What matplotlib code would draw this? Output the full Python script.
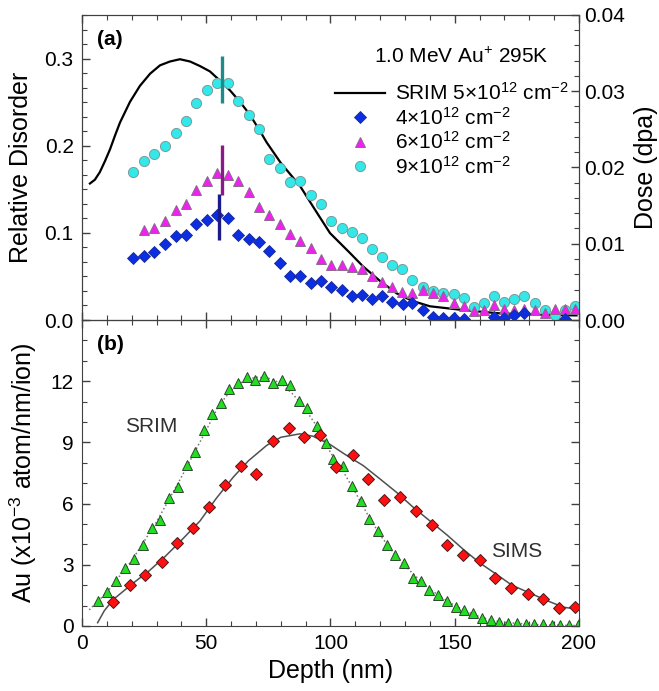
import matplotlib
matplotlib.use('Agg')
import matplotlib.pyplot as plt
from matplotlib.ticker import AutoMinorLocator, MultipleLocator

plt.rcParams['font.family'] = ['Liberation Sans', 'DejaVu Sans']
plt.rcParams['mathtext.fontset'] = 'custom'
plt.rcParams['mathtext.rm'] = 'Liberation Sans'
plt.rcParams['mathtext.it'] = 'Liberation Sans:italic'
plt.rcParams['mathtext.bf'] = 'Liberation Sans:bold'

# ---- panel (a): relative disorder data ----
depth_4e12 = [20.6, 25, 29.1, 33.3, 37.7, 41.9, 46, 50.3, 54.5, 58.8, 62.9, 67.1, 71.2,
              75.4, 79.5, 83.7, 87.8, 92, 96.2, 100.1, 104.5, 108.5, 112.5, 116.8, 120.6,
              124.6, 129, 133, 137.1, 141.4, 145.4, 149.7, 153.7, 165.8, 169.8, 173.8,
              177.9, 194.4]
rd_4e12 = [0.071, 0.074, 0.078, 0.087, 0.096, 0.098, 0.110, 0.115, 0.121, 0.117, 0.098,
           0.093, 0.090, 0.079, 0.065, 0.051, 0.050, 0.043, 0.045, 0.038, 0.035, 0.028,
           0.029, 0.024, 0.028, 0.021, 0.018, 0.020, 0.012, 0.004, 0.002, 0.002, 0.001,
           0.004, 0.002, 0.006, 0.008, 0.001]

depth_6e12 = [25, 29.1, 33.3, 37.7, 41.9, 46, 50.3, 54.5, 58.8, 62.9, 67.1, 71.2, 75.4,
              79.5, 83.7, 87.8, 92, 96.2, 100.1, 104.5, 108.5, 112.5, 116.8, 120.8, 124.9,
              128.9, 132.9, 137.3, 141.4, 145.4, 149.7, 153.7, 157.7, 161.8, 165.8, 169.8,
              173.8, 178, 182.3, 186.3, 190.3, 194.4, 198.4]
rd_6e12 = [0.103, 0.106, 0.114, 0.126, 0.133, 0.149, 0.160, 0.169, 0.166, 0.160, 0.147,
           0.130, 0.120, 0.110, 0.099, 0.091, 0.083, 0.070, 0.063, 0.063, 0.061, 0.058,
           0.051, 0.044, 0.038, 0.032, 0.031, 0.034, 0.031, 0.027, 0.019, 0.016, 0.010,
           0.012, 0.017, 0.013, 0.012, 0.013, 0.012, 0.008, 0.013, 0.013, 0.013]

depth_9e12 = [20.6, 25, 29.1, 33.3, 37.7, 41.9, 46, 50.3, 54.5, 58.8, 62.9, 67.1, 71.2,
              75.4, 79.5, 83.7, 87.8, 92, 96.2, 100.1, 104.5, 108.5, 112.5, 116.8, 120.8,
              124.9, 128.9, 132.9, 137.3, 141.4, 145.4, 149.7, 153.7, 157.7, 161.8, 165.8,
              169.8, 173.8, 178, 182.3, 186.3, 190.3, 194.4, 198.4]
rd_9e12 = [0.170, 0.183, 0.191, 0.200, 0.215, 0.228, 0.249, 0.264, 0.272, 0.272, 0.251,
           0.235, 0.219, 0.185, 0.174, 0.158, 0.159, 0.144, 0.133, 0.114, 0.106, 0.101,
           0.094, 0.081, 0.072, 0.063, 0.058, 0.046, 0.038, 0.033, 0.031, 0.030, 0.025,
           0.015, 0.019, 0.027, 0.021, 0.024, 0.028, 0.020, 0.012, 0.006, 0.012, 0.016]

# SRIM damage profile for 5e12 cm^-2 (dpa, right axis)
depth_srim_dpa = [3.2, 5.2, 7.2, 9.2, 11.3, 13.3, 15.3, 19.3, 23.3, 27.4, 31.4, 35.4,
                  39.4, 43.5, 47.5, 51.5, 55.5, 59.6, 63.6, 67.6, 71.6, 74.3, 80, 87.7,
                  93.7, 99.8, 107.8, 113.2, 120, 126.6, 133, 140, 153.5, 166.9, 180.3, 199]
dpa_srim = [0.0179, 0.0184, 0.0194, 0.0208, 0.0224, 0.0242, 0.0259, 0.0286, 0.0307,
            0.0323, 0.0334, 0.0339, 0.0342, 0.0339, 0.0333, 0.0326, 0.0314, 0.0301,
            0.0286, 0.0269, 0.0248, 0.0233, 0.0206, 0.0176, 0.0145, 0.0114, 0.0088,
            0.0070, 0.0051, 0.0035, 0.0025, 0.0018, 0.0013, 0.0009, 0.0007, 0.0006]

# peak markers (depth, low, high) per fluence
peak_bars = [(56.2, 0.249, 0.303, '#1f8a8a'),
             (56.2, 0.143, 0.201, '#8a1a8a'),
             (55.1, 0.092, 0.145, '#1a1a8a')]

# ---- panel (b): Au concentration ----
depth_srim_au = [6.6, 10.2, 13.7, 17.3, 20.9, 24.4, 28, 31.5, 35.1, 38.5, 42.1, 45.6,
                 49.1, 52.4, 55.9, 59.3, 62.8, 66.3, 69.7, 73.4, 76.7, 80.4, 83.7, 87.3,
                 90.7, 94.4, 98.1, 101.1, 104.9, 108.5, 112.1, 115.6, 119, 122.6, 126.1,
                 129.6, 133.1, 136.4, 139.8, 143.4, 146.7, 150.4, 153.9, 157.5, 161, 164.5,
                 168, 171.6, 175, 178.6, 181.9, 185.4, 189, 192.3, 196, 199.5]
au_srim = [1.23, 1.69, 2.22, 2.85, 3.26, 3.95, 4.79, 5.20, 6.27, 6.79, 7.89, 8.55, 9.59,
           10.38, 10.94, 11.64, 11.92, 12.22, 12.05, 12.27, 11.92, 12.05, 11.81, 11.04,
           10.69, 9.78, 8.96, 8.19, 7.86, 6.87, 6.13, 5.26, 4.65, 3.96, 3.47, 3.09, 2.35,
           2.19, 1.74, 1.53, 1.23, 0.95, 0.76, 0.63, 0.41, 0.30, 0.21, 0.16, 0.16, 0.10,
           0.10, 0.10, 0.05, 0.05, 0.05, 0.05]

depth_sims = [12.6, 19.3, 25.4, 32.1, 38.4, 44.8, 51.2, 57.5, 63.9, 70, 76.7, 83.2, 89.5,
              95.8, 102.2, 108.9, 115.2, 121.5, 128, 134.4, 140.7, 147, 153.5, 160.2,
              166.3, 172.7, 179.4, 185.6, 191.9, 198.5]
au_sims = [1.17, 1.99, 2.52, 3.14, 4.08, 4.79, 5.84, 6.92, 7.86, 7.45, 9.06, 9.70, 9.26,
           9.34, 7.78, 8.39, 7.20, 6.18, 6.33, 5.64, 4.93, 3.96, 3.47, 3.21, 2.35, 1.86,
           1.58, 1.32, 0.90, 0.92]

depth_srim_fit = [2.9, 10, 20, 30, 40, 50, 55, 60, 65, 70, 75, 80, 85, 90, 95, 100, 105,
                  110, 115, 120, 125, 130, 135, 140, 145, 150, 155, 160, 165, 170, 180,
                  190, 200]
au_srim_fit = [0.79, 1.65, 3.2, 5.1, 7.3, 9.6, 10.8, 11.55, 12.0, 12.2, 12.15, 11.9,
               11.35, 10.6, 9.7, 8.5, 7.6, 6.55, 5.45, 4.45, 3.65, 2.95, 2.35, 1.8, 1.38,
               1.0, 0.7, 0.45, 0.28, 0.18, 0.08, 0.04, 0.02]

depth_sims_fit = [6.3, 9, 12.6, 20.6, 27, 33.4, 40, 47.5, 54, 60.9, 67, 74.3, 80, 87.7,
                  93, 99.8, 106, 113.2, 120, 126.6, 133, 140, 147, 153.5, 160, 166.9, 173,
                  180.3, 187, 193.7, 199.7]
au_sims_fit = [0.16, 0.75, 1.3, 2.1, 2.7, 3.4, 4.2, 5.15, 6.25, 7.3, 8.1, 8.85, 9.25,
               9.42, 9.3, 8.9, 8.4, 7.86, 7.2, 6.55, 5.85, 5.15, 4.45, 3.75, 3.1, 2.52,
               2.0, 1.61, 1.25, 0.92, 0.82]

AX = '#404040'
fig = plt.figure(figsize=(6.59, 6.91), dpi=100)
ax1 = fig.add_axes([0.1244, 0.5369, 0.7542, 0.4414])
ax2 = fig.add_axes([0.1244, 0.0941, 0.7542, 0.4428], sharex=ax1)
ax1r = ax1.twinx()
ax1.set_zorder(ax1r.get_zorder() + 1)
ax1.patch.set_visible(False)

# panel (a)
srim_line, = ax1r.plot(depth_srim_dpa, dpa_srim, '-', color='black', lw=1.6)
h9, = ax1.plot(depth_9e12, rd_9e12, 'o', ms=7.3, mfc='#33e8e8', mec='#7a9a9a', mew=0.7)
h6, = ax1.plot(depth_6e12, rd_6e12, '^', ms=7.3, mfc='#f020f0', mec='#8a6a8a', mew=0.7)
h4, = ax1.plot(depth_4e12, rd_4e12, 'D', ms=5.7, mfc='#0a2ee0', mec='#1a2a9a', mew=0.6)
for x, lo, hi, c in peak_bars:
    ax1.plot([x, x], [lo, hi], '-', color=c, lw=2.4, solid_capstyle='butt')

ax1.set_xlim(0, 200)
ax1.set_ylim(0, 0.35)
ax1r.set_ylim(0, 0.04)
ax1.set_yticks([0.0, 0.1, 0.2, 0.3])
ax1r.set_yticks([0.0, 0.01, 0.02, 0.03, 0.04])
ax1.yaxis.set_minor_locator(AutoMinorLocator(6))
ax1r.yaxis.set_minor_locator(AutoMinorLocator(5))
ax1.set_ylabel('Relative Disorder', fontsize=18, labelpad=8)
ax1r.set_ylabel('Dose (dpa)', fontsize=18, labelpad=6)
ax1.tick_params(labelbottom=False)

ax1.legend([srim_line, h4, h6, h9],
           ['SRIM 5×10$^{12}$ cm$^{-2}$', '4×10$^{12}$ cm$^{-2}$',
            '6×10$^{12}$ cm$^{-2}$', '9×10$^{12}$ cm$^{-2}$'],
           loc='upper right', bbox_to_anchor=(1.005, 0.82), frameon=False,
           fontsize=15, numpoints=1, handlelength=2.4, handletextpad=0.5,
           labelspacing=0.12, borderpad=0.1)
ax1.text(152.5, 0.302, '1.0 MeV Au$^{+}$ 295K', fontsize=15, ha='center', va='center')
ax1.text(0.03, 0.95, '(a)', transform=ax1.transAxes, fontsize=15,
         fontweight='bold', va='top')

# panel (b)
ax2.plot(depth_srim_fit, au_srim_fit, ':', color='#777777', lw=1.1)
ax2.plot(depth_sims_fit, au_sims_fit, '-', color='#505050', lw=1.1)
ax2.plot(depth_srim_au, au_srim, '^', ms=7, mfc='#22dd22', mec='#2a4a2a', mew=0.7)
ax2.plot(depth_sims, au_sims, 'D', ms=6.5, mfc='#ff1010', mec='#4a1a1a', mew=0.7)
ax2.set_ylim(0, 15)
ax2.set_yticks([0, 3, 6, 9, 12])
ax2.yaxis.set_minor_locator(AutoMinorLocator(3))
ax2.set_xticks([0, 50, 100, 150, 200])
ax2.xaxis.set_minor_locator(MultipleLocator(10))
ax2.set_xlabel('Depth (nm)', fontsize=18, labelpad=4)
ax2.set_ylabel('Au (x10$^{-3}$ atom/nm/ion)', fontsize=18, labelpad=8)
ax2.text(0.03, 0.95, '(b)', transform=ax2.transAxes, fontsize=15,
         fontweight='bold', va='top')
ax2.text(28, 9.8, 'SRIM', fontsize=15, ha='center', va='center', color='#303030')
ax2.text(175, 3.67, 'SIMS', fontsize=15, ha='center', va='center', color='#303030')

for a in (ax1, ax1r, ax2):
    for s in a.spines.values():
        s.set_color(AX)
    a.tick_params(which='both', direction='in', colors=AX, labelcolor='black',
                  labelsize=15)
    a.tick_params(which='major', length=6, width=1)
    a.tick_params(which='minor', length=3.5, width=0.8)
ax1.tick_params(which='both', top=True, right=False, pad=6)
ax1r.tick_params(which='both', pad=4)
ax2.tick_params(which='both', top=True, right=True, pad=6)

fig.savefig('out.png', dpi=100)
